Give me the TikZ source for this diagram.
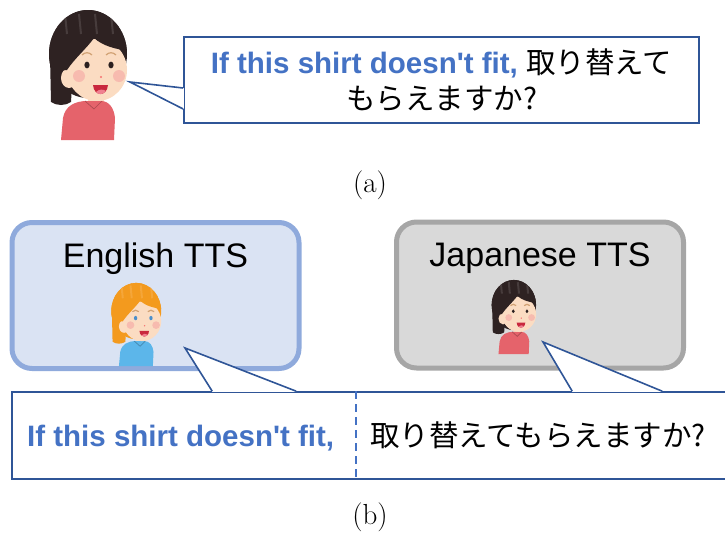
\documentclass[tikz,border=0pt]{standalone}
\usepackage{fontspec}
\newfontfamily\arial{Liberation Sans}
\newfontfamily\jpfont{Noto Sans CJK JP}
\usetikzlibrary{positioning}
\definecolor{Edge}{HTML}{2F5597}
\definecolor{Blue}{HTML}{4472C4}
\definecolor{EngF}{HTML}{DAE3F3}
\definecolor{EngE}{HTML}{8FAADC}
\definecolor{JpF}{HTML}{D9D9D9}
\definecolor{JpE}{HTML}{A6A6A6}
\definecolor{HairDk}{HTML}{2E2222}
\definecolor{HairOr}{HTML}{F39A1E}
\definecolor{Skin}{HTML}{FBDCC2}
\definecolor{Cheek}{HTML}{F4A0A0}
\definecolor{Brow}{HTML}{D2A274}
\definecolor{Mouth}{HTML}{C9283E}
\definecolor{Tongue}{HTML}{EF8090}
\definecolor{ShirtRd}{HTML}{E5636B}
\definecolor{ShirtBl}{HTML}{5CB6EA}
\definecolor{EyeDk}{HTML}{2B2020}
\definecolor{EyeBl}{HTML}{4B8FCB}

% speaker figure: hair, shirt, eye colour; origin at the face centre
\tikzset{
  pics/person/.style n args={3}{code={
    % hair at the back
    \fill[#1] (-9,-14) ellipse[x radius=39pt,y radius=44pt];
    \fill[#1] (-47,-12) -- (-46,34) .. controls (-40,38) and (-32,38) .. (-26,34) -- (-24,0) -- cycle;
    % neck and shirt
    \fill[Skin] (-9,24) rectangle (7,40);
    \fill[#2] (-36,72) -- (-34,50) .. controls (-32,38) and (-22,33) .. (-10,33) -- (4,33)
      .. controls (12,33) and (17,40) .. (18,50) -- (17,72) -- cycle;
    \draw[#2!75!black,line width=0.7pt] (-12,33) -- (-3,41) -- (5,33);
    % ear and face
    \fill[Skin] (-28,10) ellipse[x radius=8pt,y radius=10pt];
    \fill[Skin] (0,2) ellipse[x radius=30pt,y radius=31pt];
    % fringe
    \begin{scope}
      \clip (-9,-14) ellipse[x radius=39pt,y radius=44pt];
      \fill[#1] (-50,-60) -- (-50,4) -- (-30,2) .. controls (-22,-10) and (-10,-20) .. (-3,-30)
        .. controls (6,-22) and (18,-19) .. (32,-17) -- (32,-60) -- cycle;
      \foreach \sx in {-32,-18,-2,14}
        \draw[#1!88!white,line width=2pt] (\sx,-54) -- (\sx+2,-34);
    \end{scope}
    % brows, eyes, cheeks, nose, mouth
    \draw[Brow,line width=1.2pt] (-15,-13) .. controls (-12,-16) and (-8,-16) .. (-5,-13);
    \draw[Brow,line width=1.2pt] (9,-13) .. controls (12,-16) and (16,-16) .. (19,-13);
    \fill[#3] (-10,-3) ellipse[x radius=2.6pt,y radius=3.4pt];
    \fill[#3] (14,-3) ellipse[x radius=2.6pt,y radius=3.4pt];
    \fill[Cheek,opacity=.55] (-18,8) circle[radius=6pt] (22,8) circle[radius=6pt];
    \fill[Cheek!70!red] (4,9) circle[radius=1.2pt];
    \fill[Mouth] (-4,17) .. controls (-3,29) and (10,29) .. (11,17) -- cycle;
    \fill[Tongue] (-1,24) .. controls (2,21) and (6,21) .. (9,23) .. controls (6,27) and (1,27) .. (-1,24) -- cycle;
  }}
}

\begin{document}
\begin{tikzpicture}[x=1pt,y=-1pt,
    bubble/.style={draw=Edge,fill=white,line width=1.6pt,inner sep=0pt},
    say/.style={font=\arial\fontsize{29.5}{36}\selectfont,inner sep=0pt},
    tail/.style={draw=Edge,line width=1.6pt,line join=miter},
    ttsbox/.style={rounded corners=20pt,line width=5pt,minimum width=287pt,minimum height=146pt},
    ttslabel/.style={font=\arial\fontsize{34}{40}\selectfont,inner sep=0pt},
    sublabel/.style={font=\fontsize{29}{34}\selectfont,inner sep=0pt}]
  \useasboundingbox (0,0) rectangle (725,533);
  \clip (0,0) rectangle (725,533);

  % (a) speaker and her line
  \pic (spk) at (97,68) {person={HairDk}{ShirtRd}{EyeDk}};
  \node[bubble,say,align=center,minimum width=515pt,minimum height=86pt] (ask) at (441.5,80)
    {{\bfseries\color{Blue}If this shirt doesn\textquotesingle t fit,} {\jpfont 取り替えて}\\{\jpfont もらえますか?}};
  \coordinate (asktip) at (130,82);
  \fill[white] ([yshift=-8pt]ask.west) -- (asktip) -- ([yshift=-29pt]ask.west) -- cycle;
  \draw[white,line width=2.4pt] ([yshift=-8pt]ask.west) -- ([yshift=-29pt]ask.west);
  \draw[tail] ([yshift=-8pt]ask.west) -- (asktip) -- ([yshift=-29pt]ask.west);
  \node[sublabel] (capa) at (370,185) {(a)};

  % (b) two TTS systems
  \node[ttsbox,fill=EngF,draw=EngE] (eng) at (155.5,295.5) {};
  \node[ttsbox,fill=JpF,draw=JpE] (jpn) at (540,295) {};
  \node[ttslabel,below=23pt of eng.north] (englab) {English TTS};
  \node[ttslabel,below=23pt of jpn.north] (jpnlab) {Japanese TTS};
  \pic[scale=0.64] (girl) at (142,320) {person={HairOr}{ShirtBl}{EyeBl}};
  \pic[scale=0.57] (woman) at (519,313) {person={HairDk}{ShirtRd}{EyeDk}};

  % mixed utterance
  \node[bubble,minimum width=733pt,minimum height=87pt] (mix) at (378.5,435.5) {};
  \coordinate (engtip) at (185,348);
  \coordinate (jpntip) at (543,342);
  \fill[white] ([xshift=201pt]mix.north west) -- (engtip) -- ([xshift=285pt]mix.north west) -- cycle;
  \fill[white] ([xshift=561pt]mix.north west) -- (jpntip) -- ([xshift=651pt]mix.north west) -- cycle;
  \draw[white,line width=2.4pt] ([xshift=201pt]mix.north west) -- ([xshift=285pt]mix.north west);
  \draw[white,line width=2.4pt] ([xshift=561pt]mix.north west) -- ([xshift=651pt]mix.north west);
  \draw[tail] ([xshift=201pt]mix.north west) -- (engtip) -- ([xshift=285pt]mix.north west);
  \draw[tail] ([xshift=561pt]mix.north west) -- (jpntip) -- ([xshift=651pt]mix.north west);
  \coordinate (split) at (356,0);
  \draw[Blue,line width=1.3pt,dash pattern=on 8pt off 5pt] (mix.north -| split) -- (mix.south -| split);
  \node[say,anchor=base west,text=Blue,font=\arial\bfseries\fontsize{29.5}{36}\selectfont] (entext) at (27,446.5)
    {If this shirt doesn\textquotesingle t fit,};
  \node[say,anchor=base west] (jptext) at (370,446.5) {\jpfont 取り替えてもらえますか?};
  \node[sublabel] (capb) at (370,517) {(b)};
\end{tikzpicture}
\end{document}
